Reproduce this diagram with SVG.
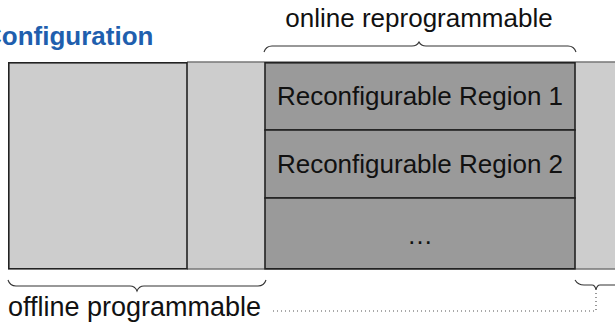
<svg xmlns="http://www.w3.org/2000/svg" width="615" height="324" viewBox="0 0 615 324">
  <style>
    .lbl { font-family: "Liberation Sans", Arial, Helvetica, sans-serif; font-size: 26px; fill: #111; }
    .title { font-family: "Liberation Sans", Arial, Helvetica, sans-serif; font-size: 26px; font-weight: bold; fill: #1f5fae; }
    .light { fill: #cdcdcd; }
    .dark { fill: #9a9a9a; }
    .edge { stroke: #222; stroke-width: 1.6; }
    .soft { stroke: #777; stroke-width: 1.6; fill: none; }
    .brace { stroke: #333; stroke-width: 1.1; fill: none; }
    .dots { stroke: #555; stroke-width: 1.2; fill: none; stroke-dasharray: 1 3; }
  </style>

  <!-- heading -->
  <text class="title" x="-17" y="45">Configuration</text>

  <!-- static part of the fabric -->
  <g id="static-fabric">
    <rect class="light" x="8" y="62" width="615" height="207"/>
    <path class="soft" d="M187,62 H623 M187,269 H623"/>
  </g>

  <g id="static-block">
    <rect class="light edge" x="8.8" y="62.8" width="178.2" height="206"/>
  </g>

  <!-- reconfigurable area -->
  <g id="region-1">
    <rect class="dark edge" x="265" y="62.8" width="310" height="67.2"/>
    <text class="lbl" x="420" y="105" text-anchor="middle">Reconfigurable Region 1</text>
  </g>
  <g id="region-2">
    <rect class="dark edge" x="265" y="130" width="310" height="68"/>
    <text class="lbl" x="420" y="173" text-anchor="middle">Reconfigurable Region 2</text>
  </g>
  <g id="region-more">
    <rect class="dark edge" x="265" y="198" width="310" height="70.8"/>
    <text class="lbl" x="420" y="244" text-anchor="middle">…</text>
  </g>

  <!-- labels -->
  <g id="label-online">
    <text class="lbl" x="419" y="27" text-anchor="middle">online reprogrammable</text>
  </g>
  <g id="label-offline">
    <text class="lbl" x="8" y="316" style="font-size:27px">offline programmable</text>
  </g>

  <!-- braces and leader -->
  <g id="connectors">
    <path class="brace" d="M264,52 Q266,46 272,46 L412,46 Q417,46 419,42 Q421,46 426,46 L568,46 Q574,46 576,52"/>
    <path class="brace" d="M8,280 Q10,286 16,286 L130,286 Q135,286 137,291 Q139,286 144,286 L258,286 Q264,286 266,280"/>
    <path class="brace" d="M575,280 Q578,285 584,285 L592,285 Q595,285 596,290 Q597,285 600,285 L615,285"/>
    <path class="dots" d="M596,293 V311 H272"/>
  </g>
</svg>
